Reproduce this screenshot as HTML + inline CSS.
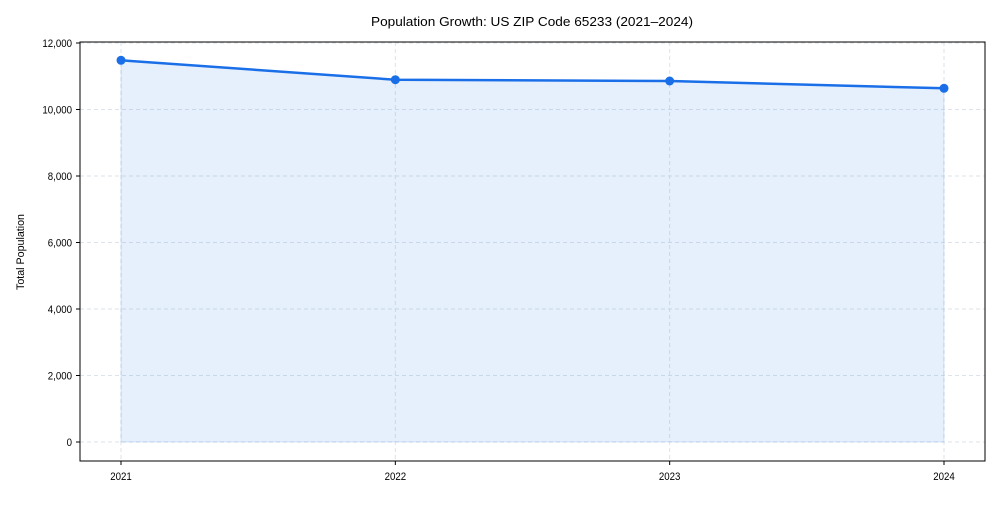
<!DOCTYPE html>
<html><head><meta charset="utf-8"><style>
body{margin:0;background:#fff;font-family:"Liberation Sans",Arial,sans-serif}
text{font-family:"Liberation Sans",Arial,sans-serif;fill:#000}
</style></head><body>
<svg id="chart" width="1000" height="500" xmlns="http://www.w3.org/2000/svg">
<text x="532" y="26" font-size="13" text-anchor="middle" textLength="322" lengthAdjust="spacingAndGlyphs">Population Growth: US ZIP Code 65233 (2021–2024)</text>
<text transform="translate(24,252) rotate(-90)" font-size="11" text-anchor="middle" textLength="76" lengthAdjust="spacingAndGlyphs">Total Population</text>
<g id="grid"></g><g id="marks"></g><g id="axes"></g>
<rect x="80" y="42" width="905" height="419" fill="none" stroke="#000" stroke-width="1"/>
</svg>
<script>
const years=["2021","2022","2023","2024"];
const population=[11480,10896,10857,10638];
const yTicks=[0,2000,4000,6000,8000,10000,12000];
const NS="http://www.w3.org/2000/svg";
const x=i=>121+i*(944-121)/(years.length-1);
const y=v=>442-v*(442-43)/12000;
function mk(t,a,p){const e=document.createElementNS(NS,t);for(const k in a)e.setAttribute(k,a[k]);p.appendChild(e);return e;}
const grid=document.getElementById('grid'),marks=document.getElementById('marks'),axes=document.getElementById('axes');
yTicks.forEach(v=>{
 const g=mk('line',{x1:80,x2:985,y1:y(v),y2:y(v),stroke:'#dde3ea','stroke-dasharray':'4,3'},grid);
 
 
 mk('line',{x1:76,x2:80,y1:y(v),y2:y(v),stroke:'#000'},axes);
 const t=mk('text',{x:72,y:y(v)+4,'font-size':11,'text-anchor':'end',transform:'translate(72,0) scale(0.88,1) translate(-72,0)'},axes);
 t.textContent=v.toLocaleString('en-US');
 
 
});
years.forEach((yr,i)=>{
 const g=mk('line',{x1:x(i),x2:x(i),y1:42,y2:461,stroke:'#dde3ea','stroke-dasharray':'4,3'},grid);
 
 
 mk('line',{x1:x(i),x2:x(i),y1:461,y2:465,stroke:'#000'},axes);
 const t=mk('text',{x:x(i),y:480,'font-size':11,'text-anchor':'middle',transform:'translate('+x(i)+',0) scale(0.88,1) translate('+(-x(i))+',0)'},axes);
 t.textContent=yr;
 
 
});
let pts=population.map((v,i)=>x(i)+','+y(v)).join(' ');
const area=mk('polygon',{points:pts+' '+x(years.length-1)+','+y(0)+' '+x(0)+','+y(0),fill:'#1a73e8','fill-opacity':0.11,stroke:'#1a73e8','stroke-opacity':0.15},marks);


const line=mk('polyline',{points:pts,fill:'none',stroke:'#1a6fe8','stroke-width':2.5},marks);


population.forEach((v,i)=>{
 const c=mk('circle',{cx:x(i),cy:y(v),r:4.5,fill:'#1a6fe8'},marks);
 
 
});
</script>
</body></html>
